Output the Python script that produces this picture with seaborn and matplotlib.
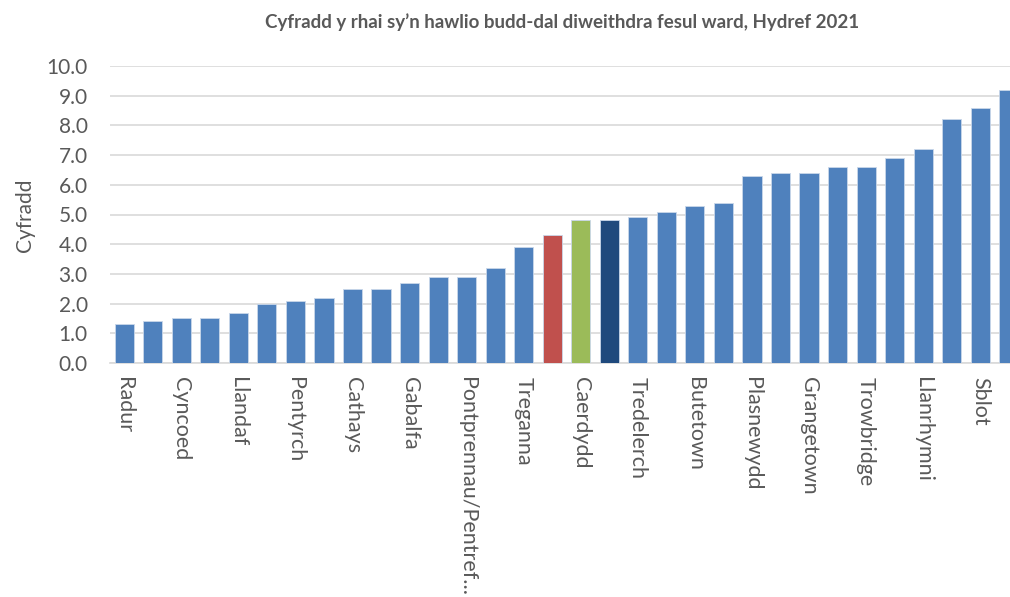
import matplotlib
matplotlib.use('Agg')
import matplotlib.pyplot as plt
import seaborn as sns
import pandas as pd

# Data (only every other ward is labelled on the axis)
wards = ['Radur', 'Llys-faen', 'Cyncoed', 'Creigiau/Sain Ffagan', 'Llandaf',
         'Rhiwbeina', 'Pentyrch', 'Yr Eglwys Newydd', 'Cathays', 'Pen-y-lan',
         'Gabalfa', 'Y Mynydd Bychan', 'Pontprennau/Pentref...', 'Llanisien',
         'Treganna', 'Cymru', 'Caerdydd', 'DU', 'Tredelerch', 'Y Tyllgoed',
         'Butetown', 'Ystum Taf', 'Plasnewydd', 'Pentwyn', 'Grangetown',
         'Glan-yr-afon', 'Trowbridge', 'Caerau', 'Llanrhymni', 'Trelái',
         'Sblot', 'Adamsdown']
rates = [1.3, 1.4, 1.5, 1.5, 1.7, 2.0, 2.1, 2.2, 2.5, 2.5,
         2.7, 2.9, 2.9, 3.2, 3.9, 4.3, 4.8, 4.8, 4.9, 5.1,
         5.3, 5.4, 6.3, 6.4, 6.4, 6.6, 6.6, 6.9, 7.2, 8.2,
         8.6, 9.2]
highlight = {'Cymru': '#c0504d', 'Caerdydd': '#9bbb59', 'DU': '#1f497d'}
base_colour = '#4f81bd'

df = pd.DataFrame({'ward': wards, 'rate': rates})
palette = {w: highlight.get(w, base_colour) for w in wards}

sns.set_style('white')
plt.rcParams['font.family'] = ['Lato', 'DejaVu Sans']

fig = plt.figure(figsize=(10.10, 5.97), dpi=100)
ax = fig.add_axes([110 / 1010, 1 - 363 / 597, 913 / 1010, 297 / 597])

sns.barplot(data=df, x='ward', y='rate', hue='ward', palette=palette,
            legend=False, width=0.67, saturation=1, edgecolor='#c9d7ea',
            linewidth=0.6, ax=ax, zorder=3)

ax.set_ylim(0, 10)
ax.set_xlim(-0.5, len(wards) - 0.5)
ax.set_yticks([i for i in range(11)])
ax.set_yticklabels([f'{i:.1f}' for i in range(11)])
ax.set_xticks(range(0, len(wards), 2))
ax.set_xticklabels(wards[::2], rotation=-90, ha='center', va='top')
ax.tick_params(axis='x', length=0, pad=10, labelsize=15.5, colors='#595959')
ax.tick_params(axis='y', length=0, pad=16, labelsize=15, colors='#595959')
ax.grid(axis='y', color='#d9d9d9', linewidth=1.2, zorder=0)
ax.set_axisbelow(True)
for side in ['top', 'right', 'left']:
    ax.spines[side].set_visible(False)
ax.spines['bottom'].set_color('#d9d9d9')
ax.spines['bottom'].set_linewidth(1.2)
ax.set_xlabel('')
ax.set_ylabel('')

fig.text(25 / 1010, 1 - 215 / 597, 'Cyfradd', rotation=90, ha='center',
         va='center', fontsize=15, color='#595959')
fig.text(562 / 1010, 1 - 22 / 597,
         'Cyfradd y rhai sy\u2019n hawlio budd-dal diweithdra fesul ward, Hydref 2021',
         ha='center', va='center', fontsize=13.5, fontweight='bold', color='#595959')

fig.savefig('out.png', dpi=100)
